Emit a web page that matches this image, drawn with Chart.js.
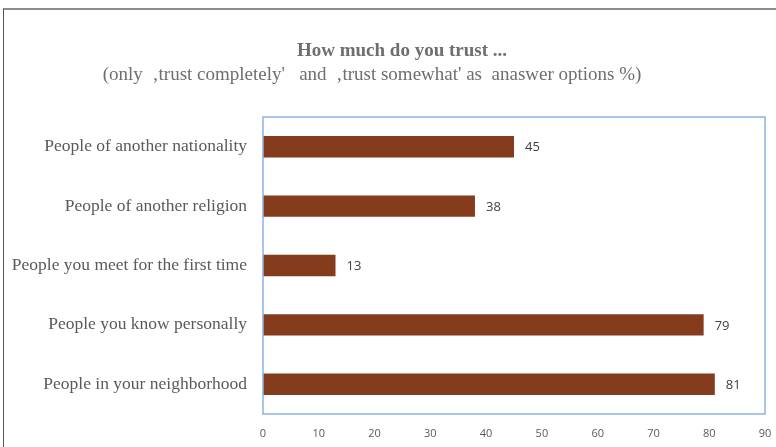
<!DOCTYPE html>
<html>
<head>
<meta charset="utf-8">
<script src="https://cdn.jsdelivr.net/npm/chart.js@4"></script>
<style>
  html, body { margin: 0; padding: 0; background: #fff; }
  #wrap { position: relative; width: 776px; height: 447px; overflow: hidden; }
  #frame {
    position: absolute; left: 3px; top: 8px; width: 790px; height: 460px;
    border-top: 2px solid #8c8c8c; border-left: 1px solid #555;
    pointer-events: none;
  }
</style>
</head>
<body>
<div id="wrap">
  <canvas id="trustChart" width="776" height="447"></canvas>
  <div id="frame"></div>
</div>
<script>
// Trust survey - share of "trust completely" + "trust somewhat"
const categories = [
  'People of another nationality',
  'People of another religion',
  'People you meet for the first time',
  'People you know personally',
  'People in your neighborhood'
];
const trustValues = [45, 38, 13, 79, 81];
const xTicks = [0, 10, 20, 30, 40, 50, 60, 70, 80, 90];

const titleText = 'How much do you trust ...';
const subtitleText = "(only  \u201Atrust completely'   and  \u201Atrust somewhat' as  anaswer options %)";

// headings, plot frame and value labels
const decorations = {
  id: 'decorations',
  afterDraw(chart) {
    const ctx = chart.ctx;
    const area = chart.chartArea;
    ctx.save();
    ctx.fillStyle = '#6e6e6e';
    ctx.textBaseline = 'middle';
    ctx.textAlign = 'center';
    ctx.font = 'bold 19px "Liberation Serif", "Times New Roman", serif';
    ctx.fillText(titleText, 402, 51);
    ctx.font = '19px "Liberation Serif", "Times New Roman", serif';
    ctx.fillText(subtitleText, 372, 75);

    ctx.strokeStyle = '#8db3e2';
    ctx.lineWidth = 1.5;
    ctx.strokeRect(area.left, area.top, area.right - area.left, area.bottom - area.top);

    const meta = chart.getDatasetMeta(0);
    ctx.fillStyle = '#404040';
    ctx.textAlign = 'left';
    ctx.font = '13px "Open Sans", "Liberation Sans", sans-serif';
    meta.data.forEach((bar, i) => {
      ctx.fillText(String(trustValues[i]), bar.x + 11, bar.y + 1);
    });
    ctx.restore();
  }
};

new Chart(document.getElementById('trustChart'), {
  type: 'bar',
  data: {
    labels: categories,
    datasets: [{
      data: trustValues,
      backgroundColor: '#843c1c',
      borderWidth: 0,
      categoryPercentage: 1,
      barPercentage: 0.36
    }]
  },
  options: {
    indexAxis: 'y',
    responsive: false,
    animation: false,
    layout: { padding: { top: 117, right: 11, bottom: 0, left: 0 } },
    plugins: { legend: { display: false }, tooltip: { enabled: false } },
    scales: {
      x: {
        min: 0,
        max: 90,
        afterBuildTicks: axis => { axis.ticks = xTicks.map(v => ({ value: v })); },
        afterFit: axis => {
          axis.height = 33;
          axis.paddingLeft = 0;
          axis.paddingRight = 0;
        },
        grid: { display: false, drawTicks: false },
        border: { display: false },
        ticks: {
          padding: 13,
          color: '#595959',
          font: { family: '"Open Sans", "Liberation Sans", sans-serif', size: 11 }
        }
      },
      y: {
        afterFit: axis => { axis.width = 263; },
        grid: { display: false, drawTicks: false },
        border: { display: false },
        ticks: {
          padding: 16,
          color: '#5a5a5a',
          font: { family: '"Liberation Serif", "Times New Roman", serif', size: 17.5 }
        }
      }
    }
  },
  plugins: [decorations]
});
</script>
</body>
</html>
